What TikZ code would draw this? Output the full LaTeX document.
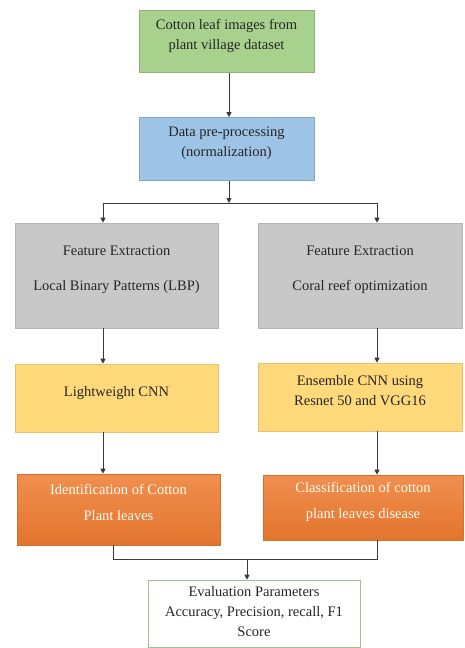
\documentclass[tikz,border=0pt]{standalone}
\usepackage{fontspec}
\setmainfont{Liberation Serif}
\usetikzlibrary{arrows.meta}
\definecolor{cgreen}{HTML}{A9D18E}
\definecolor{cblue}{HTML}{9DC3E6}
\definecolor{cgray}{HTML}{C8C8C8}
\definecolor{cyellow}{HTML}{FFD97A}
\definecolor{corange}{HTML}{EE7B30}
\definecolor{cline}{HTML}{3A3A3A}
\definecolor{cevb}{HTML}{9EBF92}
\tikzset{
  box/.style={rectangle, align=center, inner sep=3pt, line width=0.6pt,
    font=\fontsize{14.5}{20}\selectfont, text=black!85, text depth=14pt},
  greenbox/.style={box, fill=cgreen, draw=cgreen!85!black, minimum width=175pt, minimum height=62pt},
  bluebox/.style={box, fill=cblue, draw=cblue!85!black, minimum width=175pt, minimum height=63pt},
  graybox/.style={box, fill=cgray, draw=cgray!90!black, minimum height=105pt},
  yellowbox/.style={box, fill=cyellow, draw=cyellow!90!black, minimum height=68pt},
  orangebox/.style={box, top color=corange!85!white, bottom color=corange!95!black, draw=corange!90!black, text=white!95!yellow},
  evalbox/.style={box, fill=white, draw=cevb, text depth=4pt, minimum width=212pt, minimum height=67pt},
  conn/.style={draw=cline, line width=1pt},
  arr/.style={conn, -{Triangle[length=5pt,width=5pt]}}
}
\begin{document}
\begin{tikzpicture}[x=1pt,y=-1pt]
\useasboundingbox (0,0) rectangle (465,648);
\coordinate (xl) at (103,0);
\coordinate (xr) at (377,0);
\coordinate (xlb) at (113,0);
\coordinate (split) at (229,203);
\coordinate (joinl) at (113,559);
\coordinate (joinr) at (377,559);
\coordinate (joinm) at (247,559);

\node[greenbox] (src) at (226.5,41.5) {Cotton leaf images from\\plant village dataset};
\node[bluebox] (pre) at (226.5,149) {Data pre-processing\\(normalization)};
\node[graybox, minimum width=203pt] (fe1) at (116.5,275.5) {Feature Extraction\\[15pt]Local Binary Patterns (LBP)};
\node[graybox, minimum width=204pt] (fe2) at (360,275.5) {Feature Extraction\\[15pt]Coral reef optimization};
\node[yellowbox, minimum width=203pt] (cnn1) at (116.5,398) {Lightweight CNN};
\node[yellowbox, minimum width=204pt] (cnn2) at (360,397) {Ensemble CNN using\\Resnet 50 and VGG16};
\node[orangebox, minimum width=203pt, minimum height=71pt] (id) at (118.5,509.5) {Identification of Cotton\\[6pt]Plant leaves};
\node[orangebox, minimum width=200pt, minimum height=65pt] (cls) at (363,507.5) {Classification of cotton\\[6pt]plant leaves disease};
\node[evalbox] (ev) at (254,613.5) {Evaluation Parameters\\Accuracy, Precision, recall, F1\\Score};

\draw[arr] (src.south -| split) -- (pre.north -| split);
\draw[arr] (pre.south -| split) -- (split);
\draw[conn] (split -| xl) -- (split -| xr);
\draw[arr] (split -| xl) -- (fe1.north -| xl);
\draw[arr] (split -| xr) -- (fe2.north -| xr);
\draw[arr] (fe1.south -| xl) -- (cnn1.north -| xl);
\draw[arr] (fe2.south -| xr) -- (cnn2.north -| xr);
\draw[arr] (cnn1.south -| xl) -- (id.north -| xl);
\draw[arr] (cnn2.south -| xr) -- (cls.north -| xr);
\draw[conn] (id.south -| joinl) -- (joinl) -- (joinr) -- (cls.south -| joinr);
\draw[arr] (joinm) -- (ev.north -| joinm);
\end{tikzpicture}
\end{document}
